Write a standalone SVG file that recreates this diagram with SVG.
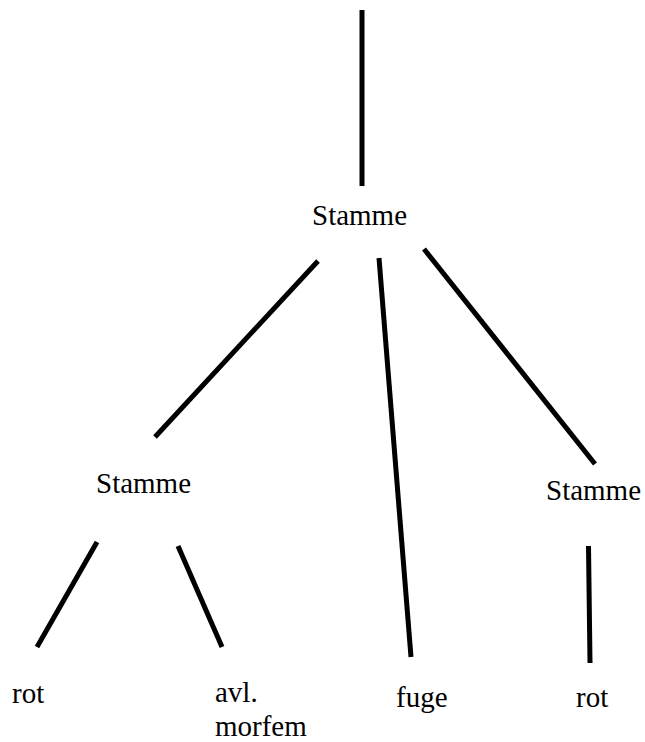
<svg xmlns="http://www.w3.org/2000/svg" width="645" height="742" viewBox="0 0 645 742">
<style>
text{font-family:'Liberation Serif','Times New Roman','DejaVu Serif',serif;font-size:29px;fill:#000}
.edge{stroke:#000;stroke-width:5;stroke-linecap:butt;fill:none}
</style>
<rect width="645" height="742" fill="#fff"/>
<g id="connectors">
<line class="edge" x1="362" y1="10" x2="362" y2="186"/>
<line class="edge" x1="318" y1="261" x2="155" y2="437"/>
<line class="edge" x1="379" y1="258" x2="411" y2="657"/>
<line class="edge" x1="424" y1="249" x2="595" y2="464"/>
<line class="edge" x1="97" y1="542" x2="37" y2="647"/>
<line class="edge" x1="178" y1="546" x2="222" y2="647"/>
<line class="edge" x1="588.5" y1="546" x2="590" y2="663"/>
</g>
<g id="n-stamme-top"><text font-family="Liberation Serif, serif" x="312" y="225">Stamme</text></g>
<g id="n-stamme-left"><text font-family="Liberation Serif, serif" x="96" y="493">Stamme</text></g>
<g id="n-stamme-right"><text font-family="Liberation Serif, serif" x="546" y="500">Stamme</text></g>
<g id="n-rot-left"><text font-family="Liberation Serif, serif" x="12" y="703">rot</text></g>
<g id="n-avl-morfem"><text font-family="Liberation Serif, serif" x="215" y="702">avl.</text><text font-family="Liberation Serif, serif" x="215" y="736">morfem</text></g>
<g id="n-fuge"><text font-family="Liberation Serif, serif" x="396" y="707">fuge</text></g>
<g id="n-rot-right"><text font-family="Liberation Serif, serif" x="576" y="707">rot</text></g>
</svg>
